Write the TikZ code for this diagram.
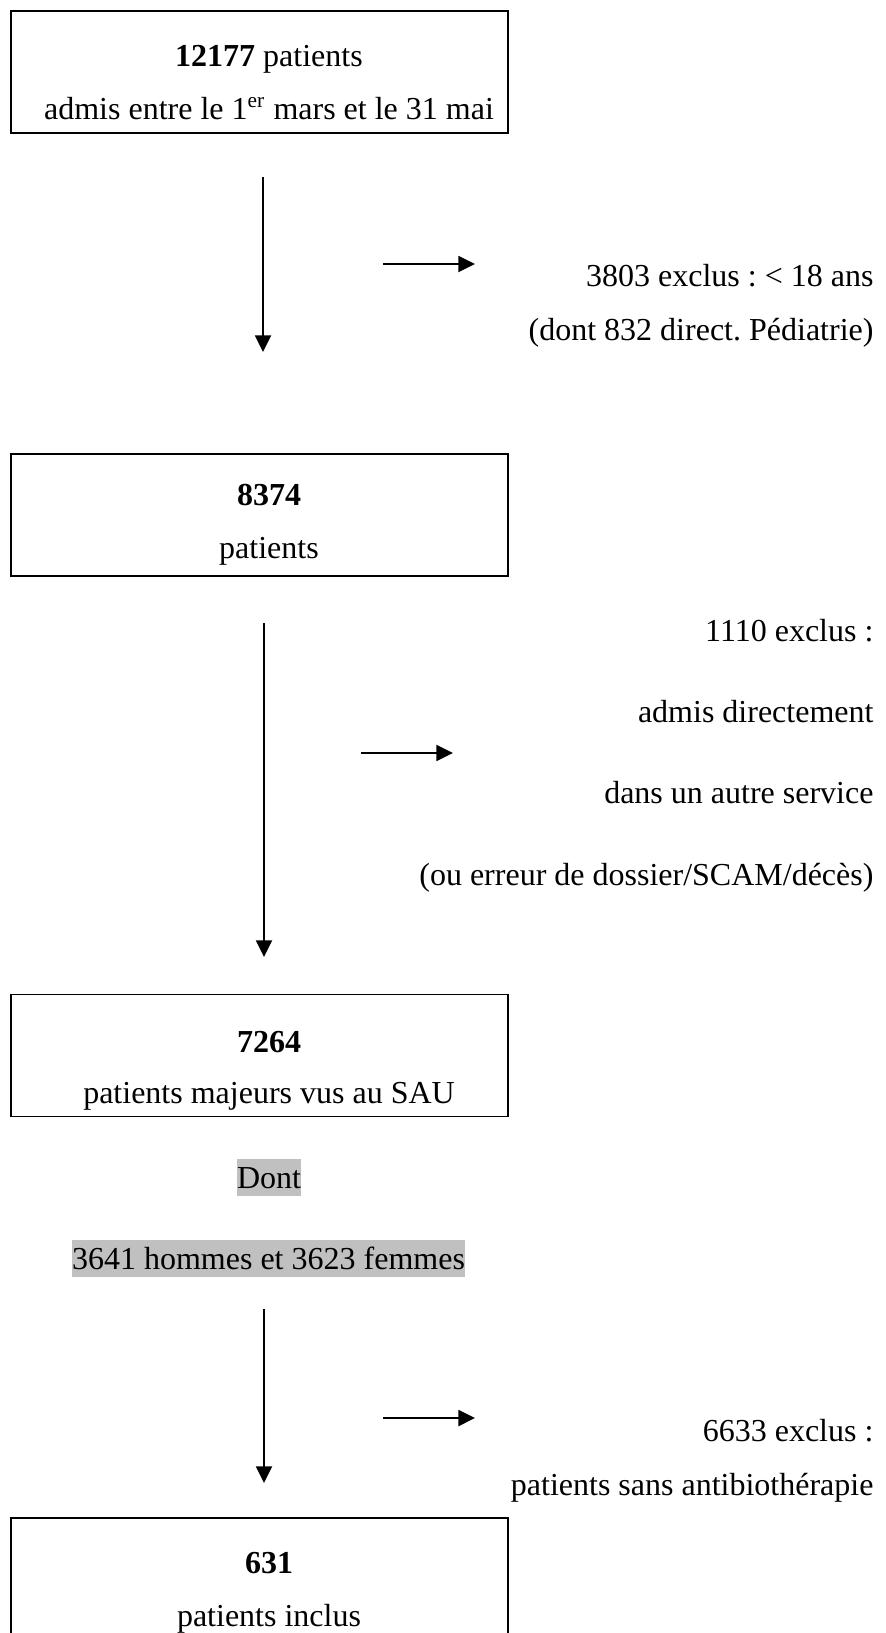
\documentclass[tikz,border=0pt]{standalone}
\usepackage{fontspec}
\setmainfont{Liberation Serif}
\usetikzlibrary{arrows.meta}
\definecolor{hlgrey}{RGB}{192,192,192}
\frenchspacing

\tikzset{
  stagebox/.style={draw, line width=0.65pt, minimum width=186.4pt, minimum height=45.75pt, inner sep=0pt},
  txt/.style={anchor=base, inner sep=0pt, font=\fontsize{12}{14}\selectfont},
  excl/.style={txt, anchor=base east},
  hl/.style={txt, fill=hlgrey, text height=10.9pt, text depth=3pt},
  flow/.style={line width=0.7pt, -{Triangle[length=6.2pt, width=6pt]}}
}

\begin{document}
\begin{tikzpicture}[x=0.375pt, y=-0.375pt]
			\clip (0,0) rectangle (886,1633);

			% Box: all admitted patients
			\node[stagebox] (admis) at (259.5,72) {};
			\node[txt] (admis-n) at (269,66) {\textbf{12177} patients};
			\node[txt] (admis-t) at (269,119) {admis entre le 1\textsuperscript{er} mars et le 31 mai};

			% First step
			\coordinate (d1a) at (263,177);
			\coordinate (d1b) at (263,352);
			\draw[flow] (d1a) -- (d1b);
			\coordinate (h1a) at (383,264);
			\coordinate (h1b) at (475,264);
			\draw[flow] (h1a) -- (h1b);
			\node[excl] (ex1a) at (874,286) {3803 exclus : < 18 ans};
			\node[excl] (ex1b) at (874,340) {(dont 832 direct. Pédiatrie)};

			% Box: adults
			\node[stagebox] (adultes) at (259.5,515) {};
			\node[txt] (adultes-n) at (269,505) {\textbf{8374}};
			\node[txt] (adultes-t) at (269,558) {patients};

			% Second step
			\coordinate (d2a) at (264,623);
			\coordinate (d2b) at (264,957);
			\draw[flow] (d2a) -- (d2b);
			\coordinate (h2a) at (361,753);
			\coordinate (h2b) at (453,753);
			\draw[flow] (h2a) -- (h2b);
			\node[excl] (ex2a) at (874,641) {1110 exclus :};
			\node[excl] (ex2b) at (874,722) {admis directement};
			\node[excl] (ex2c) at (874,803) {dans un autre service};
			\node[excl] (ex2d) at (874,885) {(ou erreur de dossier/SCAM/décès)};

			% Box: seen at SAU
			\node[stagebox] (sau) at (259.5,1055.5) {};
			\node[txt] (sau-n) at (269,1052) {\textbf{7264}};
			\node[txt] (sau-t) at (269,1103) {patients majeurs vus au SAU};
			\node[hl] (dont) at (269,1188) {Dont};
			\node[hl] (sexe) at (268.5,1269) {3641 hommes et 3623 femmes};

			% Third step
			\coordinate (d3a) at (264,1309);
			\coordinate (d3b) at (264,1483);
			\draw[flow] (d3a) -- (d3b);
			\coordinate (h3a) at (383,1418);
			\coordinate (h3b) at (475,1418);
			\draw[flow] (h3a) -- (h3b);
			\node[excl] (ex3a) at (874,1441) {6633 exclus :};
			\node[excl] (ex3b) at (874,1495) {patients sans antibiothérapie};

			% Box: included
			\node[stagebox] (inclus) at (259.5,1579) {};
			\node[txt] (inclus-n) at (269,1573) {\textbf{631}};
			\node[txt] (inclus-t) at (269,1626) {patients inclus};
		\end{tikzpicture}
\end{document}
